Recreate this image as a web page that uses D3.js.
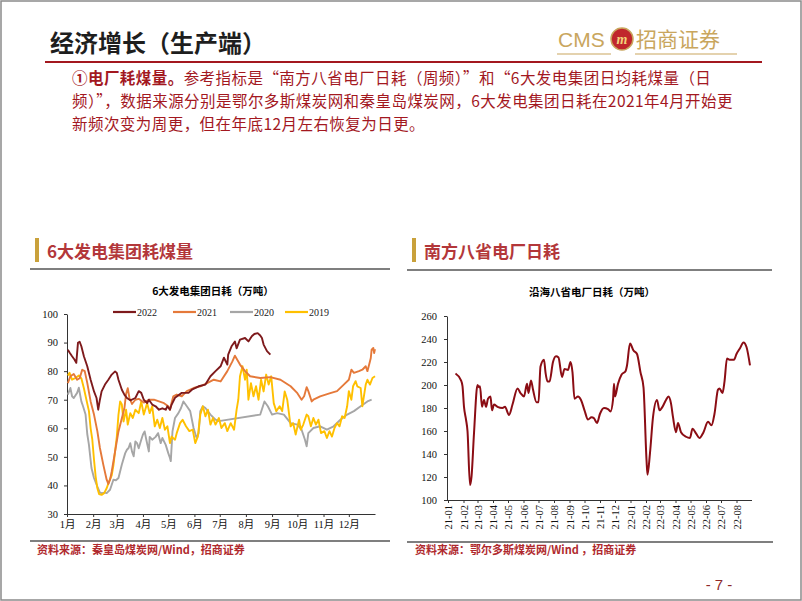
<!DOCTYPE html>
<html><head><meta charset="utf-8">
<script src="https://cdn.jsdelivr.net/npm/d3@7/dist/d3.min.js"></script>
<style>body{margin:0;background:#fff}svg{display:block}</style>
</head><body>
<svg id="c" width="802" height="601"></svg>
<script>
// ---------- DATA ----------
const monthLabels = ["1月","2月","3月","4月","5月","6月","7月","8月","9月","10月","11月","12月"];
const monthStarts = [0,31,59,90,120,151,181,212,243,273,304,334];
const leftYTicks = [30,40,50,60,70,80,90,100];
const seriesNames = ["2022","2021","2020","2019"];
// [day of year, value]
const s2022 = [[1,87.5],[3,86.5],[6,85.2],[9,84],[11,82.9],[13,89.9],[15,90.3],[17,88.7],[20,85.2],[24,81.7],[28,77],[32,72.9],[35,70.6],[37,66.5],[39,70],[41,72.9],[45,75.3],[49,77],[53,78.8],[57,79.9],[59,79.4],[61,77],[65,73.5],[68,71.8],[71,70.6],[75,69.8],[81,70.6],[85,73],[88,72.4],[91,70],[95,68.8],[97,70],[101,68.3],[105,67.7],[109,66.5],[113,67],[117,66.5],[119,67.7],[122,66.5],[124,68.3],[128,70.7],[136,72.4],[144,72.4],[148,73.5],[156,74.7],[164,75.3],[170,78.2],[176,80],[182,81.7],[186,84.7],[190,82.3],[191,85.8],[195,88.7],[199,90.4],[201,88],[205,91],[211,91.6],[215,90.4],[219,92.2],[222,93],[226,93.3],[229,92.5],[231,91.6],[233,89.3],[237,87],[241,85.8]];
const s2021 = [[1,75.8],[4,78.2],[8,79],[12,77],[15,77.5],[18,80.5],[21,80],[24,75.9],[28,69.4],[32,64.8],[36,58.9],[39,53.1],[43,47.3],[47,42],[49,40.5],[51,42],[53,44.9],[57,51.9],[61,58.9],[65,63.5],[68,67],[70,72],[72,74],[74,70.6],[77,68.5],[81,70],[85,70.3],[91,69],[97,70],[103,70],[109,69.4],[115,68.8],[120,67.7],[122,66.5],[124,69],[126,71.2],[130,71.8],[136,71.2],[142,73],[150,74.1],[158,74.7],[166,75.8],[174,77],[182,76.4],[190,80],[196,83.4],[199,85.4],[205,82.3],[211,80],[217,78.2],[229,77.6],[241,77.9],[253,77],[265,74.7],[273,72.3],[278,70],[281,71.2],[284,74.4],[286,73],[290,69.4],[292,70],[300,71.2],[312,72.3],[320,73],[328,75.3],[334,77],[337,80.5],[340,79.4],[346,80],[350,80.5],[354,81.7],[356,80],[359,83.4],[360,84.6],[361,87.5],[363,88.1],[364,86.3],[365,87.7]];
const s2020 = [[1,71.8],[4,74.1],[6,71.2],[8,70.6],[12,72.4],[14,74.2],[17,69.4],[19,67.7],[22,64.8],[24,58],[26,54.2],[29,46.1],[32,42.6],[36,39.6],[39,37.5],[41,37.3],[45,37.5],[47,37.3],[51,38.5],[55,42],[58,41.8],[61,42.6],[65,47.3],[69,51.3],[71,52.5],[73,53.1],[75,54.8],[77,51.9],[79,50.2],[81,55.4],[83,54.8],[85,53],[88,56],[90,57.8],[92,58.9],[94,56],[97,51.9],[98,57],[101,56],[105,57],[108,58.3],[111,54.8],[113,56.6],[117,54.2],[120,51.3],[122,49.6],[123,48.5],[125,58.9],[128,63.6],[132,65.3],[135,67],[138,69.4],[142,67.7],[146,66],[150,60.1],[153,57.1],[154,56.6],[156,58.3],[158,66],[161,67.7],[164,67.1],[170,64.8],[176,63],[180,62.5],[229,64.8],[234,69.4],[238,67.7],[243,64.8],[249,65.3],[257,64.8],[265,61.8],[273,61.3],[278,59.5],[282,56],[284,53.7],[286,58.3],[292,60.1],[300,60.7],[308,59.5],[316,60.7],[324,63],[332,64.8],[340,66],[348,67.7],[356,69.4],[361,70]];
const s2019 = [[1,78.5],[3,79.4],[6,77],[10,77.6],[14,78.5],[17,77.5],[20,74],[23,70],[26,66],[28,60],[30,56],[32,49],[34,43],[36,39],[38,37],[41,36.7],[44,37.3],[47,39],[50,41.5],[53,43.5],[55,47],[57,52],[59,57],[61,64.8],[63,69.4],[65,68.3],[67,62.4],[70,66.5],[72,61.3],[75,65.3],[78,63.6],[81,66.5],[85,65.3],[88,69.4],[91,64.8],[95,68.8],[98,65.3],[101,67.7],[104,60.7],[107,63],[110,60.1],[113,63.6],[116,59.5],[119,60.7],[122,54.8],[124,57.1],[128,56],[130,58.3],[134,61.8],[137,63],[141,60.7],[145,59],[149,59.5],[152,54.8],[155,57.1],[158,64.8],[161,67.7],[164,64.2],[167,66.5],[170,61.3],[173,63.6],[176,61.3],[180,63.6],[183,60.1],[187,61.8],[190,59],[194,61.8],[198,59.5],[201,66.5],[203,70],[205,78.2],[208,81.7],[211,77],[213,80.5],[215,70],[218,75.8],[221,71.2],[224,74.7],[227,70],[230,77],[233,72.9],[236,78.8],[239,75.3],[242,78.2],[245,68.8],[248,66],[252,67.7],[255,66],[258,72.9],[261,70],[265,60.7],[268,61.8],[271,57.8],[275,63],[277,59.5],[280,61.3],[284,64.8],[286,64.2],[289,60.7],[292,63.6],[295,61.3],[298,63],[301,58.3],[305,59],[308,56.6],[311,59],[314,57.1],[317,60.1],[320,61.8],[323,60.7],[326,64.2],[329,63.6],[332,67.7],[334,73],[337,70],[339,74.7],[342,76.5],[344,74.7],[348,74.1],[350,67.7],[354,75.3],[356,77],[359,75.3],[362,77.6],[365,78.2]];

const southDates = ["2021-01-16","2021-01-27","2021-01-30","2021-02-02","2021-02-06","2021-02-09","2021-02-14","2021-02-17","2021-02-22","2021-03-01","2021-03-04","2021-03-06","2021-03-10","2021-03-14","2021-03-18","2021-03-22","2021-03-27","2021-03-30","2021-04-03","2021-04-10","2021-04-20","2021-04-25","2021-05-03","2021-05-10","2021-05-20","2021-05-26","2021-06-02","2021-06-08","2021-06-11","2021-06-16","2021-06-20","2021-06-27","2021-07-01","2021-07-05","2021-07-12","2021-07-15","2021-07-19","2021-07-23","2021-07-30","2021-08-05","2021-08-10","2021-08-17","2021-08-22","2021-08-29","2021-09-03","2021-09-07","2021-09-11","2021-09-18","2021-09-24","2021-10-01","2021-10-08","2021-10-15","2021-10-20","2021-10-26","2021-11-01","2021-11-09","2021-11-17","2021-11-22","2021-11-27","2021-11-29","2021-12-01","2021-12-07","2021-12-14","2021-12-22","2021-12-25","2021-12-31","2022-01-07","2022-01-14","2022-01-21","2022-01-27","2022-02-02","2022-02-04","2022-02-09","2022-02-15","2022-02-23","2022-02-28","2022-03-06","2022-03-13","2022-03-18","2022-03-23","2022-03-27","2022-04-02","2022-04-06","2022-04-12","2022-04-22","2022-04-30","2022-05-05","2022-05-12","2022-05-19","2022-05-27","2022-06-05","2022-06-12","2022-06-18","2022-06-25","2022-06-28","2022-07-04","2022-07-08","2022-07-13","2022-07-18","2022-07-27","2022-08-01","2022-08-08","2022-08-15","2022-08-21","2022-08-28"];
const southValues = [210,204,199,181,170,160,113,120,158,200,198,199,181,187,181,188,190,178,183,181,180,181,174,183,197,193,190,201,193,204,196,185,185,216,222,211,203,203,220,225,224,207,214,213,220,211,188,190,187,178,170,172,171,167,175,180,179,177,187,201,190,201,209,212,217,236,230,227,211,198,135,122,141,172,187,178,181,187,190,184,172,159,167,159,155,154,162,158,154,159,168,165,175,196,197,193,203,223,222,222,227,232,237,233,217];
const rightYTicks = [100,120,140,160,180,200,220,240,260];

// ---------- DRAW ----------
const svg = d3.select("#c");
const CJK = "'Noto Sans CJK SC','Noto Sans',sans-serif";
const SERIF = "'Liberation Serif','Noto Sans CJK SC',serif";
const RED = "#A3181F", GOLD = "#C9A65E";

svg.append("rect").attr("x",1).attr("y",1).attr("width",800).attr("height",599)
  .attr("fill","#fff").attr("stroke","#8a8a8a").attr("stroke-width",1.5);

// header
svg.append("text").attr("x",50).attr("y",52).attr("font-family",CJK).attr("font-weight",700)
  .attr("font-size",24).attr("fill","#1e1e1e").text("经济增长（生产端）");
svg.append("line").attr("x1",45).attr("x2",762).attr("y1",62).attr("y2",62)
  .attr("stroke",RED).attr("stroke-width",2);
// logo
svg.append("text").attr("x",558).attr("y",47).attr("font-family","'Liberation Sans',Arial,sans-serif")
  .attr("font-size",21).attr("fill",GOLD).text("CMS");
svg.append("circle").attr("cx",622).attr("cy",39).attr("r",11).attr("fill","#C0262C").attr("stroke",GOLD).attr("stroke-width",1.5);
svg.append("text").attr("x",622).attr("y",44).attr("text-anchor","middle").attr("font-family","'Liberation Serif',serif")
  .attr("font-style","italic").attr("font-weight",700).attr("font-size",14).attr("fill","#F3D27A").text("m");
svg.append("text").attr("x",636).attr("y",47).attr("font-family",CJK).attr("font-size",21).attr("fill",GOLD).text("招商证券");
svg.append("line").attr("x1",557).attr("x2",611).attr("y1",54).attr("y2",54).attr("stroke",GOLD).attr("stroke-width",1.2);
svg.append("line").attr("x1",635).attr("x2",737).attr("y1",54).attr("y2",54).attr("stroke",GOLD).attr("stroke-width",1.2);

// paragraph
const para = [
  [["①电厂耗煤量。",700],["参考指标是“南方八省电厂日耗（周频）”和“6大发电集团日均耗煤量（日",400]],
  [["频）”，数据来源分别是鄂尔多斯煤炭网和秦皇岛煤炭网，6大发电集团日耗在2021年4月开始更",400]],
  [["新频次变为周更，但在年底12月左右恢复为日更。",400]]
];
para.forEach((ln,i)=>{
  const t = svg.append("text").attr("x",72).attr("y",84+i*23).attr("font-family",CJK)
    .attr("font-size",15.5).attr("letter-spacing",0.45).attr("fill",RED);
  ln.forEach(([s,w])=>t.append("tspan").attr("font-weight",w).text(s));
});

// section headers
function section(x0, x1, title, lineY){
  svg.append("rect").attr("x",x0+5).attr("y",238).attr("width",4).attr("height",24).attr("fill","#C9A13B");
  svg.append("text").attr("x",x0+17).attr("y",258).attr("font-family",CJK).attr("font-weight",700)
    .attr("font-size",17).attr("fill","#B3373A").text(title);
  svg.append("line").attr("x1",x0).attr("x2",x1).attr("y1",lineY).attr("y2",lineY).attr("stroke","#7f7f7f").attr("stroke-width",2);
}
section(30,390,"6大发电集团耗煤量",269);
section(407,772,"南方八省电厂日耗",270);

// ---- Left chart ----
const xL = d3.scaleLinear().domain([0,365]).range([67,375]);
const yL = d3.scaleLinear().domain([30,100]).range([514,314]);
svg.append("text").attr("x",213).attr("y",295).attr("text-anchor","middle").attr("font-family",CJK)
  .attr("font-weight",700).attr("font-size",10.5).attr("fill","#000").text("6大发电集团日耗（万吨）");

const gyL = svg.append("g").attr("transform","translate(67,0)")
  .call(d3.axisLeft(yL).tickValues(leftYTicks).tickSize(3).tickSizeOuter(0).tickPadding(6));
const gxL = svg.append("g").attr("transform","translate(0,514)")
  .call(d3.axisBottom(xL).tickValues(monthStarts).tickFormat((d,i)=>monthLabels[i]).tickSize(3).tickSizeOuter(0).tickPadding(4));
[gyL,gxL].forEach(g=>{
  g.selectAll("path,line").attr("stroke","#333").attr("stroke-width",1);
  g.selectAll("text").attr("font-family",SERIF).attr("font-size",10.5).attr("fill","#111");
});

const colors = {"2022":"#7E1A1C","2021":"#E5793A","2020":"#A6A6A6","2019":"#FFC000"};
const seriesData = {"2022":s2022,"2021":s2021,"2020":s2020,"2019":s2019};
const lineL = d3.line().x(d=>xL(d[0])).y(d=>yL(d[1]));
["2020","2019","2021","2022"].forEach(k=>{
  svg.append("path").datum(seriesData[k]).attr("d",lineL).attr("fill","none")
    .attr("stroke",colors[k]).attr("stroke-width",1.9).attr("stroke-linejoin","round");
});
// legend
const legX = [113,173,230,285];
seriesNames.forEach((k,i)=>{
  svg.append("line").attr("x1",legX[i]).attr("x2",legX[i]+23).attr("y1",312).attr("y2",312)
    .attr("stroke",colors[k]).attr("stroke-width",2.2);
  svg.append("text").attr("x",legX[i]+24).attr("y",315.5).attr("font-family",SERIF).attr("font-size",10)
    .attr("fill","#222").text(k);
});

// ---- Right chart ----
const parse = d3.timeParse("%Y-%m-%d");
const southData = southDates.map((d,i)=>({date:parse(d),v:southValues[i]}));
const xR = d3.scaleTime().domain([new Date(2021,0,1),new Date(2022,8,1)]).range([448,752]);
const yR = d3.scaleLinear().domain([100,260]).range([500,316]);
svg.append("text").attr("x",592).attr("y",296).attr("text-anchor","middle").attr("font-family",CJK)
  .attr("font-weight",700).attr("font-size",10.5).attr("fill","#000").text("沿海八省电厂日耗（万吨）");
const gyR = svg.append("g").attr("transform","translate(447,0)")
  .call(d3.axisLeft(yR).tickValues(rightYTicks).tickSize(3).tickSizeOuter(0).tickPadding(7));
const monthTicks = d3.timeMonth.range(new Date(2021,0,1),new Date(2022,8,1));
const gxR = svg.append("g").attr("transform","translate(0,500)")
  .call(d3.axisBottom(xR).tickValues(monthTicks).tickFormat(d3.timeFormat("%y-%m")).tickSize(3).tickSizeOuter(0));
gxR.select(".domain").attr("d","M447,0.5H752");
[gyR,gxR].forEach(g=>{
  g.selectAll("path,line").attr("stroke","#333").attr("stroke-width",1);
  g.selectAll("text").attr("font-family",SERIF).attr("font-size",10.5).attr("fill","#111");
});
gxR.selectAll(".tick text").attr("text-anchor","end").attr("dy","0.35em")
  .attr("transform","translate(0,5) rotate(-90)").attr("x",0).attr("y",0);

svg.append("path").datum(southData).attr("fill","none").attr("stroke","#8B0D14").attr("stroke-width",2)
  .attr("d",d3.line().x(d=>xR(d.date)).y(d=>yR(d.v)).curve(d3.curveMonotoneX));

// bottom rules & sources
svg.append("line").attr("x1",30).attr("x2",390).attr("y1",541).attr("y2",541).attr("stroke","#7f7f7f").attr("stroke-width",2);
svg.append("line").attr("x1",407).attr("x2",773).attr("y1",542).attr("y2",542).attr("stroke","#7f7f7f").attr("stroke-width",2);
svg.append("text").attr("x",37).attr("y",554).attr("font-family",CJK).attr("font-weight",700).attr("font-size",11)
  .attr("fill","#B02A2E").text("资料来源：秦皇岛煤炭网/Wind，招商证券");
svg.append("text").attr("x",415).attr("y",554).attr("font-family",CJK).attr("font-weight",700).attr("font-size",11)
  .attr("fill","#B02A2E").text("资料来源：鄂尔多斯煤炭网/Wind ，招商证券");
svg.append("text").attr("x",719).attr("y",590).attr("text-anchor","middle").attr("font-family","'Liberation Sans',sans-serif")
  .attr("font-size",15).attr("fill","#8E2A2A").text("- 7 -");
</script>
</body></html>
